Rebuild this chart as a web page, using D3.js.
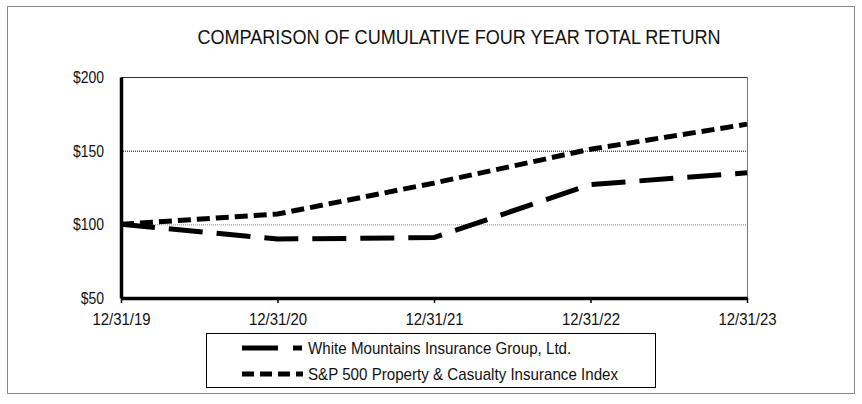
<!DOCTYPE html>
<html>
<head>
<meta charset="utf-8">
<script src="https://cdn.jsdelivr.net/npm/d3@7"></script>
<style>
  body { margin: 0; background: #fff; }
  text { font-family: "Liberation Sans", Arial, sans-serif; fill: #111; }
</style>
</head>
<body>
<div id="chart"></div>
<script>
// categories and series
var dates = ["12/31/19", "12/31/20", "12/31/21", "12/31/22", "12/31/23"];
var whiteMountains = [100, 90, 91, 127, 135];
var spPropCas = [100, 107, 128, 151, 168];
var yTicks = [50, 100, 150, 200];
var seriesNames = ["White Mountains Insurance Group, Ltd.", "S&P 500 Property & Casualty Insurance Index"];

var W = 862, H = 404;
var margin = {top: 77, right: 115, bottom: 106, left: 121},
    width = W - margin.left - margin.right,
    height = H - margin.top - margin.bottom;

// squeeze text to look like the narrow font of the original
function narrow(sel, k) {
  sel.each(function() {
    var len = this.getComputedTextLength();
    d3.select(this)
      .attr("textLength", len * k)
      .attr("lengthAdjust", "spacingAndGlyphs");
  });
}

var svg = d3.select("#chart")
  .append("svg")
    .attr("width", W)
    .attr("height", H);

// outer frame
svg.append("rect")
    .attr("x", 7.5).attr("y", 6.5)
    .attr("width", 847).attr("height", 387)
    .attr("fill", "none")
    .attr("stroke", "#8a8a8a")
    .attr("stroke-width", 1);

svg.append("text")
    .attr("x", 459)
    .attr("y", 44)
    .attr("text-anchor", "middle")
    .style("font-size", "21px")
    .text("COMPARISON OF CUMULATIVE FOUR YEAR TOTAL RETURN")
    .call(narrow, 0.86);

var g = svg.append("g")
    .attr("transform", "translate(" + margin.left + "," + margin.top + ")");

var x = d3.scalePoint()
    .domain(dates)
    .range([0, width]);

var y = d3.scaleLinear()
    .domain([50, 200])
    .range([height, 0]);

// top and right border of plot
g.append("line")
    .attr("x1", 0).attr("x2", width)
    .attr("y1", 0.5).attr("y2", 0.5)
    .attr("stroke", "#333").attr("stroke-width", 1);
g.append("line")
    .attr("x1", width + 0.5).attr("x2", width + 0.5)
    .attr("y1", 0).attr("y2", height)
    .attr("stroke", "#777").attr("stroke-width", 1);

// gridlines
g.append("line")
    .attr("x1", 0).attr("x2", width)
    .attr("y1", y(150) + 0.5).attr("y2", y(150) + 0.5)
    .attr("stroke", "#000").attr("stroke-width", 1)
    .attr("stroke-dasharray", "1,1");
g.append("line")
    .attr("x1", 0).attr("x2", width)
    .attr("y1", y(100) + 0.5).attr("y2", y(100) + 0.5)
    .attr("stroke", "#888").attr("stroke-width", 1)
    .attr("stroke-dasharray", "1,1");

// Y axis
var yAxis = g.append("g")
    .call(d3.axisLeft(y)
      .tickValues(yTicks)
      .tickSize(0)
      .tickPadding(17)
      .tickFormat(function(d) { return "$" + d; }));
yAxis.select(".domain").attr("stroke-width", 3.5);
yAxis.selectAll("text")
    .attr("font-family", null)
    .style("font-size", "17px")
    .call(narrow, 0.82);

// X axis
var xAxis = g.append("g")
    .attr("transform", "translate(0," + height + ")")
    .call(d3.axisBottom(x)
      .tickSizeInner(5)
      .tickSizeOuter(0)
      .tickPadding(10));
xAxis.select(".domain").attr("stroke-width", 3.5);
xAxis.selectAll(".tick line").attr("stroke-width", 1.5);
xAxis.selectAll("text")
    .attr("font-family", null)
    .style("font-size", "17px")
    .call(narrow, 0.88);

var line = d3.line()
    .x(function(d, i) { return x(dates[i]); })
    .y(function(d) { return y(d); });

g.append("path")
    .datum(whiteMountains)
    .attr("fill", "none")
    .attr("stroke", "#000")
    .attr("stroke-width", 5)
    .attr("stroke-dasharray", "34,14")
    .attr("d", line);

g.append("path")
    .datum(spPropCas)
    .attr("fill", "none")
    .attr("stroke", "#000")
    .attr("stroke-width", 5)
    .attr("stroke-dasharray", "13,6")
    .attr("d", line);

// legend
var legend = svg.append("g");
legend.append("rect")
    .attr("x", 206.5).attr("y", 333.5)
    .attr("width", 449).attr("height", 54)
    .attr("fill", "none")
    .attr("stroke", "#000")
    .attr("stroke-width", 1);

var dashes = ["36,15,9,100", "12,6"];
seriesNames.forEach(function(name, i) {
  var yy = 348 + i * 26;
  legend.append("line")
      .attr("x1", 242).attr("x2", 303)
      .attr("y1", yy).attr("y2", yy)
      .attr("stroke", "#000")
      .attr("stroke-width", 5)
      .attr("stroke-dasharray", dashes[i]);
  legend.append("text")
      .attr("x", 308)
      .attr("y", yy + 6)
      .style("font-size", "17px")
      .text(name)
      .call(narrow, 0.89);
});
</script>
</body>
</html>
